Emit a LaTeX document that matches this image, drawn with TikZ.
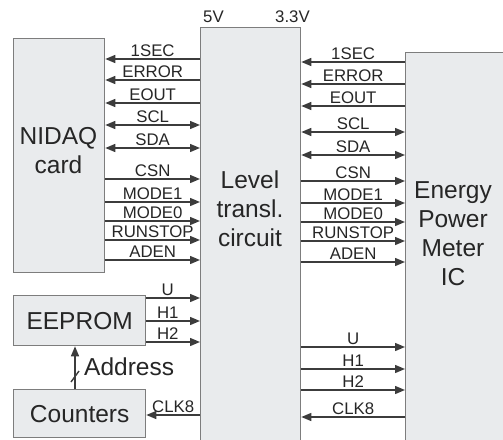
\documentclass[tikz,border=0pt]{standalone}
\usepackage{fontspec}
\setmainfont{Liberation Sans}
\usetikzlibrary{arrows.meta}
\definecolor{boxfill}{RGB}{233,235,237}
\definecolor{boxline}{RGB}{125,125,125}
\definecolor{wirecol}{RGB}{60,60,60}
\begin{document}
\begin{tikzpicture}[x=1pt,y=-1pt,
  >={Triangle[length=10pt,width=8pt]},
  box/.style={draw=boxline, fill=boxfill, line width=1.3pt, inner sep=0pt, anchor=north west},
  big/.style={font=\fontsize{24.5}{29}\selectfont, align=center, text=black!85},
  lbl/.style={font=\fontsize{16.8}{18}\selectfont, anchor=base, yshift=3pt, inner sep=0pt, text=black!85},
  toplbl/.style={font=\fontsize{16.8}{18}\selectfont, anchor=base west, inner sep=0pt, text=black!85},
  wire/.style={draw=wirecol, line width=1.4pt}]
\useasboundingbox (0,0) rectangle (503,439);
\clip (0,0) rectangle (503,439);
% boxes
\node[box, minimum width=91pt, minimum height=234pt] (nidaq) at (13,38) {};
\node[big] (nidaqtxt) at (58.5,151) {NIDAQ\\card};
\node[box, minimum width=100pt, minimum height=420pt] (lvl) at (200,27) {};
\node[big] (lvltxt) at (250,209) {Level\\transl.\\circuit};
\node[box, minimum width=110pt, minimum height=400pt] (ic) at (405,52) {};
\node[big] (ictxt) at (453,234) {Energy\\Power\\Meter\\IC};
\node[box, big, minimum width=132pt, minimum height=50pt] (eeprom) at (13,295) {EEPROM};
\node[box, big, minimum width=132pt, minimum height=48pt] (counters) at (13,389) {Counters};
% supply labels
\node[toplbl] (v5) at (203,23) {5V};
\node[toplbl] (v33) at (275,23) {3.3V};
% left signals
\foreach \y/\t in {59/1SEC, 80/ERROR, 103/EOUT}
  \draw[wire,->] (lvl.west |- 0,\y) -- node[lbl]{\t} (nidaq.east |- 0,\y);
\foreach \y/\t in {125/SCL, 148/SDA}
  \draw[wire,<->] (nidaq.east |- 0,\y) -- node[lbl]{\t} (lvl.west |- 0,\y);
\foreach \y/\t in {179/CSN, 202/MODE1, 221/MODE0, 240/RUNSTOP, 260/ADEN}
  \draw[wire,->] (nidaq.east |- 0,\y) -- node[lbl]{\t} (lvl.west |- 0,\y);
\foreach \y/\t in {298/U, 321/H1, 342/H2}
  \draw[wire,->] (eeprom.east |- 0,\y) -- node[lbl,pos=0.4]{\t} (lvl.west |- 0,\y);
\draw[wire,->] (lvl.west |- 0,415) -- node[lbl]{CLK8} (counters.east |- 0,415);
% address bus
\draw[wire,->] (counters.north -| 75,0) -- (eeprom.south -| 75,0);
\draw[wire] (71,382) -- (79,371);
\node[big, anchor=base west, inner sep=0pt] (addr) at (84,375) {Address};
% right signals
\foreach \y/\t in {62/1SEC, 84/ERROR, 106/EOUT}
  \draw[wire,->] (ic.west |- 0,\y) -- node[lbl]{\t} (lvl.east |- 0,\y);
\foreach \y/\t in {132/SCL, 155/SDA}
  \draw[wire,<->] (lvl.east |- 0,\y) -- node[lbl]{\t} (ic.west |- 0,\y);
\foreach \y/\t in {181/CSN, 203/MODE1, 222/MODE0, 241/RUNSTOP, 262/ADEN, 347/U, 369/H1, 390/H2}
  \draw[wire,->] (lvl.east |- 0,\y) -- node[lbl]{\t} (ic.west |- 0,\y);
\draw[wire,->] (ic.west |- 0,417) -- node[lbl]{CLK8} (lvl.east |- 0,417);
\end{tikzpicture}
\end{document}
